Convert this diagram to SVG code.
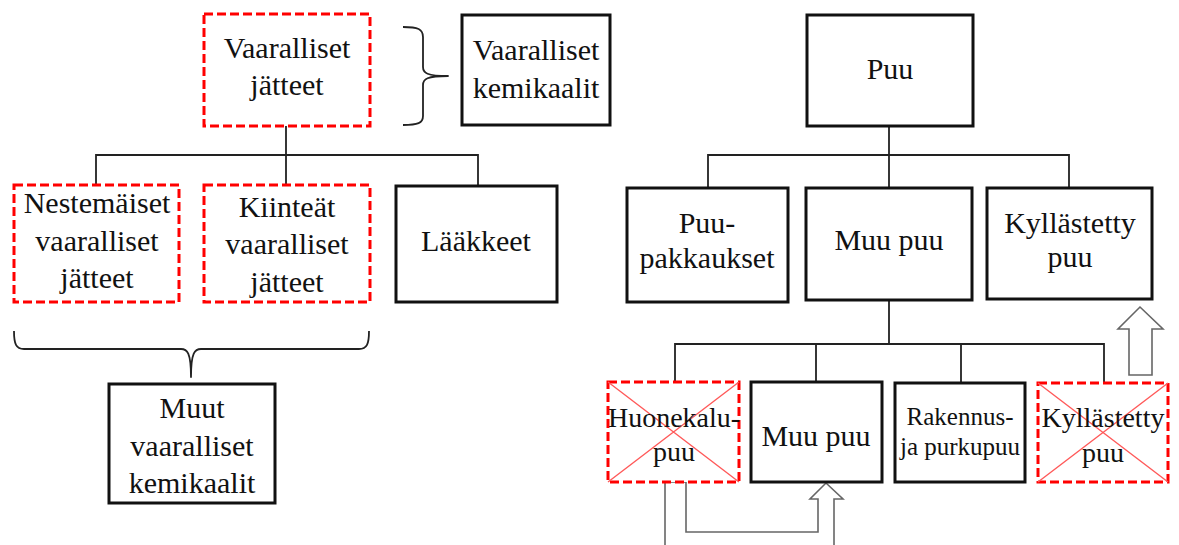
<svg xmlns="http://www.w3.org/2000/svg" width="1179" height="545" viewBox="0 0 1179 545">
  <style>
    text { font-family: 'Liberation Serif', 'Tinos', 'DejaVu Serif', serif; font-size: 30px; fill: #111; text-anchor: middle; }
    .small { font-size: 25px; }
    .mid { font-size: 28px; }
    .box { fill: #fff; stroke: #111; stroke-width: 3; }
    .dash { fill: #fff; stroke: #ff0000; stroke-width: 3; stroke-dasharray: 9 4; }
    .cross { stroke: #ff5a5a; stroke-width: 1.4; fill: none; }
    .link { fill: none; stroke: #222; stroke-width: 1.8; }
    .brace { fill: none; stroke: #222; stroke-width: 1.8; stroke-linejoin: round; }
    .flow { fill: #fff; stroke: #666; stroke-width: 1.6; stroke-linejoin: miter; }
  </style>

  <!-- connectors, braces and flow arrows -->
  <g id="connectors">
    <!-- hazardous waste tree -->
    <path class="link" d="M286,126 V185 M96,185 V155 H478 V186"/>
    <!-- wood tree, upper level -->
    <path class="link" d="M889,126 V188 M708,188 V155 H1069 V188"/>
    <!-- wood tree, lower level -->
    <path class="link" d="M889,300 V344 M675,382 V344 H1104 V382 M816,344 V382 M961,344 V383"/>
    <!-- brace joining hazardous waste and hazardous chemicals -->
    <path class="brace" d="M403,27 C418,27 423,29 423,37 L423,67 C423,73 427,76 448,76 C427,76 423,79 423,85 L423,116 C423,123 418,125 403,125"/>
    <!-- brace grouping the two waste boxes -->
    <path class="brace" d="M14,331 C14,344 16,349 24,349 L181,349 C187,349 191,352 191,377 C191,352 195,349 201,349 L359,349 C367,349 369,344 369,331"/>
    <!-- furniture wood redirected to other wood -->
    <path class="flow" d="M665,545 L665,482 L686,482 L686,532 L818,532 L818,499 L810,499 L826,483 L843,499 L834,499 L834,545"/>
    <!-- impregnated wood moved up a level -->
    <path class="flow" d="M1129,375 L1129,329 L1118,329 L1140,307 L1163,329 L1152,329 L1152,375 Z"/>
  </g>

  <g id="vaaralliset-jatteet">
    <rect class="dash" x="204" y="14" width="166" height="112"/>
    <text x="287" y="58">Vaaralliset</text>
    <text x="287" y="95">jätteet</text>
  </g>

  <g id="vaaralliset-kemikaalit">
    <rect class="box" x="462" y="15" width="148" height="110"/>
    <text x="536" y="60">Vaaralliset</text>
    <text x="536" y="98">kemikaalit</text>
  </g>

  <g id="nestemaiset">
    <rect class="dash" x="14" y="185" width="165" height="117"/>
    <text x="97" y="213">Nestemäiset</text>
    <text x="97" y="251">vaaralliset</text>
    <text x="97" y="288">jätteet</text>
  </g>

  <g id="kiinteat">
    <rect class="dash" x="204" y="185" width="166" height="117"/>
    <text x="287" y="217">Kiinteät</text>
    <text x="287" y="254">vaaralliset</text>
    <text x="287" y="292">jätteet</text>
  </g>

  <g id="laakkeet">
    <rect class="box" x="396" y="186" width="161" height="116"/>
    <text x="476" y="251">Lääkkeet</text>
  </g>

  <g id="muut-kemikaalit">
    <rect class="box" x="109" y="384" width="166" height="119"/>
    <text x="192" y="418">Muut</text>
    <text x="192" y="456">vaaralliset</text>
    <text x="192" y="493">kemikaalit</text>
  </g>

  <g id="puu">
    <rect class="box" x="807" y="15" width="166" height="111"/>
    <text x="890" y="79">Puu</text>
  </g>

  <g id="puupakkaukset">
    <rect class="box" x="627" y="188" width="161" height="114"/>
    <text x="707" y="233">Puu-</text>
    <text x="707" y="268">pakkaukset</text>
  </g>

  <g id="muu-puu">
    <rect class="box" x="806" y="188" width="166" height="112"/>
    <text x="889" y="250">Muu puu</text>
  </g>

  <g id="kyllastetty-puu">
    <rect class="box" x="987" y="188" width="165" height="111"/>
    <text x="1070" y="233">Kyllästetty</text>
    <text x="1070" y="267">puu</text>
  </g>

  <g id="huonekalupuu">
    <rect class="dash" x="608" y="382" width="131" height="100"/>
    <path class="cross" d="M608,382 L739,482 M739,382 L608,482"/>
    <text class="mid" x="674" y="427">Huonekalu-</text>
    <text class="mid" x="674" y="461">puu</text>
  </g>

  <g id="muu-puu-2">
    <rect class="box" x="751" y="382" width="131" height="100"/>
    <text x="816" y="446">Muu puu</text>
  </g>

  <g id="rakennus-ja-purkupuu">
    <rect class="box" x="895" y="383" width="130" height="99"/>
    <text class="small" x="960" y="425">Rakennus-</text>
    <text class="small" x="960" y="455">ja purkupuu</text>
  </g>

  <g id="kyllastetty-puu-2">
    <rect class="dash" x="1038" y="383" width="130" height="99"/>
    <path class="cross" d="M1038,383 L1168,482 M1168,383 L1038,482"/>
    <text class="mid" x="1103" y="427">Kyllästetty</text>
    <text class="mid" x="1103" y="462">puu</text>
  </g>
</svg>
